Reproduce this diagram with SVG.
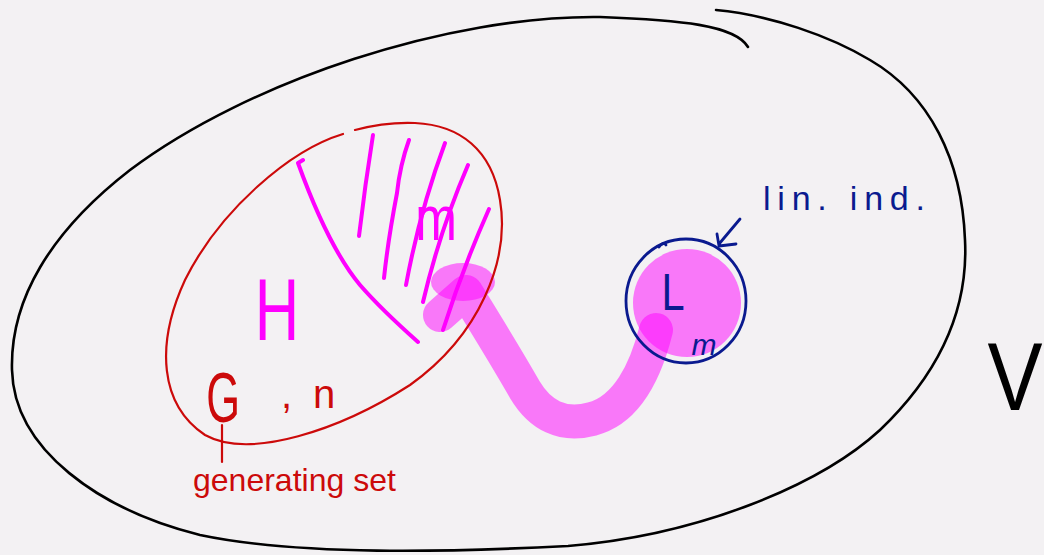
<svg xmlns="http://www.w3.org/2000/svg" width="1044" height="555" viewBox="0 0 1044 555">
<style>
.ink{fill:none;stroke-linecap:round;stroke-linejoin:round}
.blk{stroke:#000;stroke-width:2.6}
.red{stroke:#cc0a0a;stroke-width:2.2}
.mag{stroke:#ff00ff;stroke-width:4}
.blu{stroke:#0a1a8f;stroke-width:2.8}
.hl{fill:#ff00ff;opacity:0.5}
.t{font-family:"Liberation Sans",Arial,sans-serif}
</style>
<rect width="1044" height="555" fill="#f3f1f3"/>
<g id="space-V">
<path class="ink blk" d="M748,47 C735,25 680,20 600,17 C450,15 250,80 130,170 C50,232 10,300 12,370 C14,450 100,510 200,535 C300,556 450,552 568,546 C700,535 820,485 880,430 C948,365 968,300 965,240 C962,160 930,95 870,60 C830,36 770,15 716,10"/>
<text class="t" transform="translate(1015,410) scale(0.86,1)" text-anchor="middle" font-size="96" fill="#000">V</text>
</g>
<g id="connectors">
<path d="M440,315 L466,292 C482,318 505,355 525,390 C540,415 562,427 592,419 C627,410 646,370 656,330" fill="none" stroke="#ff00ff" stroke-opacity="0.5" stroke-width="34" stroke-linecap="round" stroke-linejoin="round"/>
<ellipse class="hl" cx="463" cy="282" rx="32" ry="19"/>
</g>
<g id="L">
<circle class="hl" cx="687" cy="303" r="54"/>
<ellipse class="ink blu" cx="686" cy="301" rx="60" ry="62"/>
<path class="ink blu" stroke-width="1.5" d="M659,247 Q663,241 666,245"/>
<text class="t" transform="translate(673,310) scale(0.8,1)" text-anchor="middle" font-size="52" fill="#0a1a8f">L</text>
<text class="t" x="704" y="355" text-anchor="middle" font-size="30" font-style="italic" fill="#0a1a8f">m</text>
</g>
<g id="lin-ind">
<path class="ink blu" d="M740,219 L719,244 M717,234 L719,246 L736,244"/>
<text class="t" x="763" y="210" font-size="34" textLength="162" lengthAdjust="spacing" fill="#0a1a8f">lin. ind.</text>
</g>
<g id="G">
<path class="ink red" d="M343,134 C290,150 220,210 185,280 C155,345 160,405 205,435 C250,460 340,430 410,385 C480,335 510,260 500,200 C492,150 460,125 415,123 C390,122 370,126 355,130"/>
<text class="t" transform="translate(277,340) scale(0.7,1)" text-anchor="middle" font-size="88" fill="#ff00ff">H</text>
<path class="ink mag" d="M303,160 L298,163 C315,210 335,255 360,285 C380,308 400,326 418,342"/>
<path class="ink mag" d="M373,135 Q365,185 359,236"/>
<path class="ink mag" d="M409,140 Q400,165 397,193 Q388,240 384,278"/>
<path class="ink mag" d="M445,143 Q420,210 406,285"/>
<path class="ink mag" d="M468,165 Q440,230 423,302"/>
<path class="ink mag" d="M489,209 Q462,270 443,330"/>
<text class="t" transform="translate(436,240) scale(1,1.25)" text-anchor="middle" font-size="50" fill="#ff00ff">m</text>
<text class="t" transform="translate(223,422) scale(0.62,1)" text-anchor="middle" font-size="70" fill="#cc0a0a">G</text>
<text class="t" y="408" font-size="40" fill="#cc0a0a"><tspan x="281">,</tspan><tspan x="313">n</tspan></text>
</g>
<g id="generating-set">
<path class="ink red" d="M222,425 L222,462"/>
<text class="t" x="193" y="491" font-size="32" fill="#cc0a0a">generating set</text>
</g>
</svg>
